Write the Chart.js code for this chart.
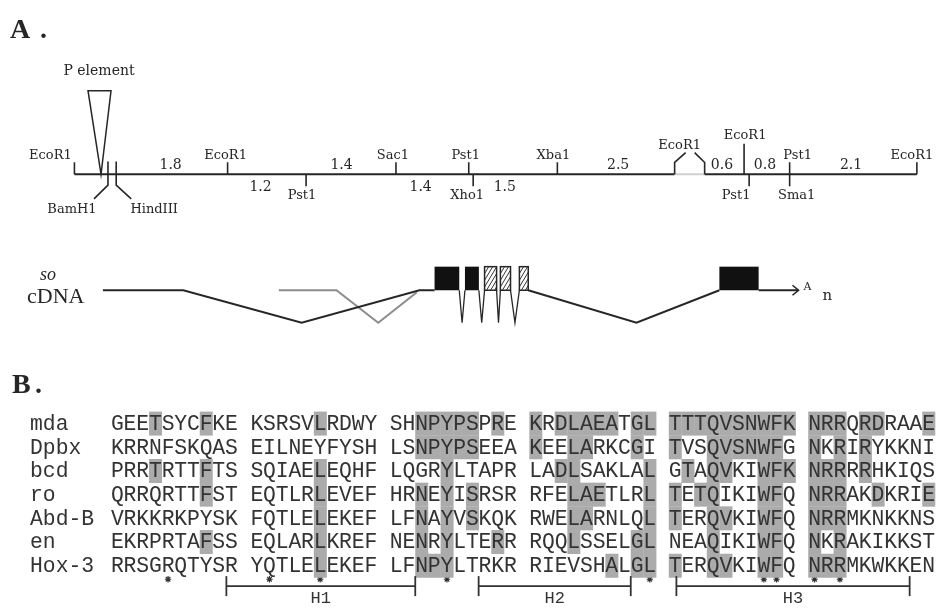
<!DOCTYPE html>
<html><head><meta charset="utf-8">
<script src="https://cdn.jsdelivr.net/npm/chart.js@4.4.1/dist/chart.umd.min.js"></script>
<style>html,body{margin:0;padding:0;background:#fff}#wrap{width:942px;height:610px;position:relative}</style>
</head><body><div id="wrap"><canvas id="c"></canvas></div>
<script>
// ================= DATA =================
// A. Restriction map: site positions in kb from the left EcoR1 site
const siteNames = ['EcoR1','BamH1','HindIII','EcoR1','Pst1','Sac1','Pst1','Xho1','Xba1','EcoR1','EcoR1','Pst1','Pst1','Sma1','EcoR1'];
const siteKb    = [0, 0.53, 0.66, 2.42, 3.66, 5.08, 6.23, 6.30, 7.63, 9.72, 10.58, 10.66, 11.30, 11.30, 13.31];
const siteKind  = ['up','downLeft','downRight','up','down','up','up','down','up','bracket','tall','down','up','down','up'];
const fragmentLabels = ['1.8','1.2','1.4','1.4','1.5','2.5','0.6','0.8','2.1'];
const fragmentKb     = [1.52, 2.94, 4.22, 5.47, 6.80, 8.59, 10.23, 10.91, 12.27];
const fragmentSide   = ['up','down','up','down','down','up','up','up','up'];
const pElementKb = 0.42;
// so cDNA structure (kb on the same map)
const exonStartKb = [5.69, 6.17, 6.48, 6.73, 7.03, 10.19];
const exonEndKb   = [6.08, 6.39, 6.67, 6.89, 7.17, 10.81];
const exonFill    = ['solid','solid','hatched','hatched','hatched','solid'];
const leaderKb    = [0.45, 1.72, 3.59, 5.45, 5.69];   // 5' leader + first intron
const leaderDown  = [0, 0, 1, 0, 0];
const intron2Kb   = [7.17, 8.88, 10.19];
const intron2Down = [0, 1, 0];
const tailKb      = [10.81, 11.44];
const altKb       = [3.23, 4.14, 4.80, 5.41];          // alternative (grey) leader
const altDown     = [0, 0, 1, 0.06];

// B. Homeodomain alignment
const seqNames = ['mda','Dpbx','bcd','ro','Abd-B','en','Hox-3'];
const mda  = ['GEETSYCFKE','KSRSVLRDWY','SHNPYPSPRE','KRDLAEATGL','TTTQVSNWFK','NRRQRDRAAE'];
const Dpbx = ['KRRNFSKQAS','EILNEYFYSH','LSNPYPSEEA','KEELARKCGI','TVSQVSNWFG','NKRIRYKKNI'];
const bcd  = ['PRRTRTTFTS','SQIAELEQHF','LQGRYLTAPR','LADLSAKLAL','GTAQVKIWFK','NRRRRHKIQS'];
const ro   = ['QRRQRTTFST','EQTLRLEVEF','HRNEYISRSR','RFELAETLRL','TETQIKIWFQ','NRRAKDKRIE'];
const AbdB = ['VRKKRKPYSK','FQTLELEKEF','LFNAYVSKQK','RWELARNLQL','TERQVKIWFQ','NRRMKNKKNS'];
const en   = ['EKRPRTAFSS','EQLARLKREF','NENRYLTERR','RQQLSSELGL','NEAQIKIWFQ','NKRAKIKKST'];
const Hox3 = ['RRSGRQTYSR','YQTLELEKEF','LFNPYLTRKR','RIEVSHALGL','TERQVKIWFQ','NRRMKWKKEN'];
const alignment = [mda, Dpbx, bcd, ro, AbdB, en, Hox3];
const starResidues = [4, 11, 15, 24, 39, 47, 48, 50, 52];   // 0-based residue index
const helixNames = ['H1','H2','H3'];
const helixFrom  = [9.1, 27, 40.6];   // residue edge
const helixTo    = [22, 38, 58];

// ================= LAYOUT (figure units) =================
const L = {
  kbPx: 64, kb0: 70, mapY: 172, tick: 12,
  topLabelY: 156, botLabelY: 197, fragUpY: 167, fragDownY: 189,
  siteDx: [-24,-36,38,-2,-4,-3,-3,-6,-4,-10,1,-13,8,7,-5],
  cdnaY: 290, valleyY: 323, exonTop: 266,
  cw: 12.818, seqX0: 107, row0: 425.5, rowH: 24.1,
  starY: 590, brY: 591
};
const INK = '#262626';

function slotOf(i){ return Math.floor(i/10)*11 + (i%10); }
function res(r,i){ return alignment[r][Math.floor(i/10)][i%10]; }
function shaded(r,i){
  const ref = res(0,i);
  if (r===0) { for (let k=1;k<alignment.length;k++) if (res(k,i)===ref) return true; return false; }
  return res(r,i)===ref;
}

const fig = {
  id:'fig',
  afterDraw(chart){
    const c = chart.ctx, s = chart.scales;
    const X = v=>s.xk.getPixelForValue(v), Y = v=>s.yf.getPixelForValue(v);
    const XA = v=>s.xa.getPixelForValue(v), YA = v=>s.ya.getPixelForValue(v);
    c.save();
    c.lineCap='butt'; c.lineJoin='miter';
    const line=(pts,w,col)=>{c.beginPath();c.moveTo(pts[0][0],pts[0][1]);for(let k=1;k<pts.length;k++)c.lineTo(pts[k][0],pts[k][1]);c.lineWidth=w;c.strokeStyle=col;c.stroke();};
    const text=(t,x,y,font,align,col)=>{c.font=font;c.textAlign=align||'center';c.textBaseline='alphabetic';c.fillStyle=col||INK;c.fillText(t,x,y);};

    // Panel letters
    text('A',10,Y(33),'bold 28px "Liberation Serif"','left');
    text('.',40,Y(33),'bold 28px "Liberation Serif"','left');
    text('B',12,Y(395),'bold 28px "Liberation Serif"','left');
    text('.',35,Y(395),'bold 28px "Liberation Serif"','left');

    // ---- restriction map ----
    const my = Y(L.mapY);
    const bi = siteKind.indexOf('bracket');
    const bl = X(siteKb[bi])-15, br = X(siteKb[bi])+15;
    line([[X(0),my],[bl,my]],2,INK);
    line([[bl,my],[br,my]],2,'#cfcfcf');
    line([[br,my],[X(siteKb[siteKb.length-1]),my]],2,INK);
    const fN='13px "DejaVu Serif"';
    siteNames.forEach((n,k)=>{
      const x=X(siteKb[k]), kind=siteKind[k], lx=x+L.siteDx[k];
      if(kind==='up'){ line([[x,my-L.tick],[x,my]],1.6,INK); text(n,lx,Y(L.topLabelY),fN); }
      else if(kind==='down'){ line([[x,my],[x,my+L.tick]],1.6,INK); text(n,lx,Y(L.botLabelY),fN); }
      else if(kind==='tall'){ line([[x,Y(141)],[x,my]],1.6,INK); text(n,lx,Y(136),fN); }
      else if(kind==='bracket'){
        line([[bl,my],[bl,Y(160)],[x-4,Y(150)]],1.6,INK);
        line([[x+5,Y(150)],[br,Y(160)],[br,my]],1.6,INK);
        text(n,lx,Y(146),fN);
      } else if(kind==='downLeft'){ line([[x,Y(159)],[x,Y(183)],[x-14,Y(197)]],1.6,INK); text(n,lx,Y(211),fN); }
      else if(kind==='downRight'){ line([[x,Y(159)],[x,Y(183)],[x+15,Y(197)]],1.6,INK); text(n,lx,Y(211),fN); }
    });
    fragmentLabels.forEach((t,k)=>{
      text(t,X(fragmentKb[k]),Y(fragmentSide[k]==='up'?L.fragUpY:L.fragDownY),'14px "DejaVu Serif"');
    });
    // P element
    const px=X(pElementKb);
    c.beginPath(); c.moveTo(px-13,Y(87)); c.lineTo(px+10,Y(87)); c.lineTo(px,my); c.closePath();
    c.lineWidth=1.5; c.strokeStyle=INK; c.stroke();
    text('P element',px-2,Y(71),'14px "DejaVu Serif"');

    // ---- so cDNA ----
    text('so',40,Y(280),'italic 18px "Liberation Serif"','left');
    text('cDNA',27,Y(303),'22px "Liberation Serif"','left');
    const cy=v=>Y(L.cdnaY + v*(L.valleyY-L.cdnaY));
    line(altKb.map((k,i)=>[X(k),cy(altDown[i])]),2,'#8c8c8c');
    line(leaderKb.map((k,i)=>[X(k),cy(leaderDown[i])]),2,INK);
    line(intron2Kb.map((k,i)=>[X(k),cy(intron2Down[i])]),2,INK);
    line(tailKb.map(k=>[X(k),cy(0)]),2,INK);
    const ax=X(tailKb[1]), ay=cy(0);
    line([[ax-6,ay-5],[ax,ay],[ax-6,ay+5]],1.6,INK);
    text('A',ax+5,Y(290),'11px "DejaVu Serif"','left');
    text('n',ax+24,Y(300),'15px "DejaVu Serif"','left');
    for(let k=0;k<4;k++){
      const a=X(exonEndKb[k]), b=X(exonStartKb[k+1]);
      line([[a,cy(0)],[(a+b)/2,cy(1)],[b,cy(0)]],1.3,INK);
    }
    exonStartKb.forEach((st,k)=>{
      const x0=X(st), x1=X(exonEndKb[k]), y0=Y(L.exonTop), y1=cy(0);
      if(exonFill[k]==='solid'){ c.fillStyle='#111'; c.fillRect(x0,y0,x1-x0,y1-y0); }
      else {
        c.save(); c.beginPath(); c.rect(x0,y0,x1-x0,y1-y0); c.clip();
        c.fillStyle='#fff'; c.fillRect(x0,y0,x1-x0,y1-y0);
        c.beginPath();
        for(let xx=x0-30;xx<x1+5;xx+=4){ c.moveTo(xx,y1); c.lineTo(xx+(y1-y0)*0.6,y0); }
        c.lineWidth=1; c.strokeStyle='#333'; c.stroke(); c.restore();
        c.lineWidth=1.5; c.strokeStyle=INK; c.strokeRect(x0,y0,x1-x0,y1-y0);
      }
    });

    // ---- alignment ----
    const nRes = 60;
    c.fillStyle='#ababab';
    for(let r=0;r<alignment.length;r++) for(let i=0;i<nRes;i++) if(shaded(r,i)){
      const sl=slotOf(i);
      const xa=XA(sl), xb=XA(sl+1), ya=YA(r-0.5), yb=YA(r+0.5);
      c.fillRect(xa,ya,xb-xa+0.3,yb-ya+0.3);
    }
    const fM='21.36px "Liberation Mono"';
    seqNames.forEach((n,r)=>{
      const yb=YA(r)+6.5;
      text(n,30,yb,fM,'left','#333');
      alignment[r].forEach((blk,b)=>{
        for(let j=0;j<blk.length;j++){
          text(blk[j],XA(b*11+j+0.5),yb,fM,'center','#333');
        }
      });
    });
    // helix brackets
    const by=Y(L.brY);
    helixNames.forEach((h,k)=>{
      const e2s=e=>Math.floor(e/10)*11+(e%10);
      const xa=XA(e2s(helixFrom[k])), xb=XA(e2s(helixTo[k]));
      line([[xa,by-10],[xa,by+10]],1.8,'#333');
      line([[xb,by-10],[xb,by+10]],1.8,'#333');
      line([[xa,by],[xb,by]],1.8,'#333');
      text(h,(xa+xb)/2,Y(608),'17px "Liberation Mono"','center','#333');
    });
    c.restore();
  }
};

const starData = starResidues.map(i=>({x: slotOf(i)+0.5, y: (L.starY-6 - L.row0)/L.rowH}));

new Chart(document.getElementById('c'), {
  type:'scatter',
  data:{datasets:[{
    label:'conserved', data: starData, xAxisID:'xa', yAxisID:'ya',
    pointStyle:'star', radius:3.2, borderColor:'#333', borderWidth:1.2, backgroundColor:'#333'
  }]},
  options:{
    responsive:true, maintainAspectRatio:false, animation:false, devicePixelRatio:1,
    layout:{padding:0},
    plugins:{legend:{display:false}, tooltip:{enabled:false}},
    scales:{
      xk:{type:'linear',axis:'x',display:false,min:-L.kb0/L.kbPx,max:(942-L.kb0)/L.kbPx},
      yf:{type:'linear',axis:'y',display:false,min:0,max:610,reverse:true},
      xa:{type:'linear',axis:'x',display:false,min:-L.seqX0/L.cw,max:(942-L.seqX0)/L.cw},
      ya:{type:'linear',axis:'y',display:false,min:-L.row0/L.rowH,max:(610-L.row0)/L.rowH,reverse:true}
    }
  },
  plugins:[fig]
});
</script></body></html>
